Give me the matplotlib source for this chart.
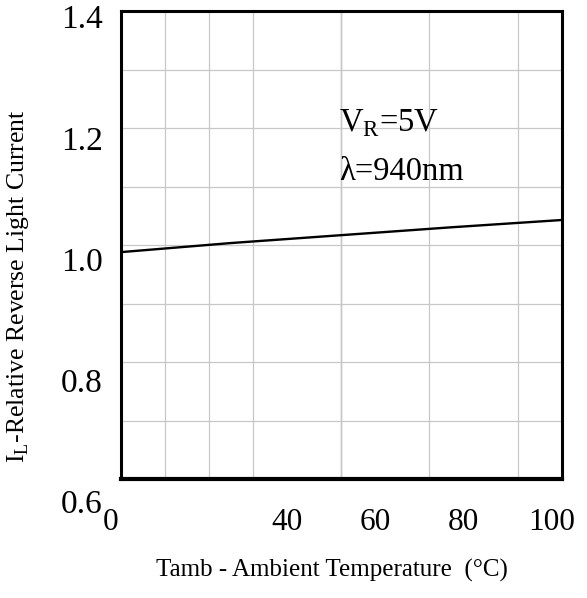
import numpy as np
import matplotlib
matplotlib.use("Agg")
import matplotlib.pyplot as plt
import matplotlib.transforms as mtransforms
from matplotlib.ticker import LinearLocator

plt.rcParams['font.family'] = ['Liberation Serif', 'DejaVu Serif']
plt.rcParams['mathtext.fontset'] = 'custom'
plt.rcParams['mathtext.rm'] = 'Liberation Serif'

# data
temps = [0, 25, 50, 75, 100]
rel_current = [1.017, 1.032, 1.045, 1.058, 1.070]
x_ticks = [0, 40, 60, 80, 100]
y_ticks = [1.4, 1.2, 1.0, 0.8, 0.6]

fig = plt.figure(figsize=(5.87, 5.98), dpi=100)
ax = fig.add_axes([0.2061, 0.1985, 0.7508, 0.7831])

ax.set_xlim(0, 100)
ax.set_ylim(0.642, 1.415)

# grid: 10 columns, 8 rows
ax.set_xticks(np.arange(0, 101, 10), minor=True)
ax.yaxis.set_minor_locator(LinearLocator(9))
ax.grid(which='minor', color='#c8c8c8', lw=0.9)
ax.axvline(50, color='#8a8a8a', lw=0.9, zorder=1)

ax.plot(temps, rel_current, color='black', lw=1.7, zorder=3)

# x tick labels
ax.set_xticks(x_ticks)
ax.set_xticklabels([str(t) for t in x_ticks], fontsize=22.5)
ax.tick_params(axis='x', which='both', length=0, pad=21)
shift = mtransforms.ScaledTranslation(-10 / 100, 0, fig.dpi_scale_trans)
for lbl in ax.get_xticklabels():
    lbl.set_transform(lbl.get_transform() + shift)

# y tick labels (drawn as text, they do not line up with the grid)
ax.set_yticks([])
ax.tick_params(axis='y', which='both', length=0, labelleft=False)
ytrans = mtransforms.blended_transform_factory(ax.transAxes, ax.transData)
for v in y_ticks:
    ax.text(-0.041, v, f"{v:.1f}", transform=ytrans, ha='right', va='center',
            fontsize=24, clip_on=False)

for side in ['left', 'top', 'right']:
    ax.spines[side].set_linewidth(2.2)
ax.spines['bottom'].set_linewidth(3.0)

ax.text(49.5, 1.216, r"V$_\mathrm{R}$=5V", fontsize=23.5, va='baseline')
ax.text(49.5, 1.136, "λ=940nm", fontsize=23.5, va='baseline')

fig.text(332 / 587, 1 - 570 / 598, "Tamb - Ambient Temperature  (°C)",
         ha='center', va='center', fontsize=18)
fig.text(18 / 587, 1 - 286 / 598, r"I$_\mathrm{L}$-Relative Reverse Light Current",
         ha='center', va='center', rotation=90, fontsize=18.5)

fig.savefig("out.png", dpi=100)
